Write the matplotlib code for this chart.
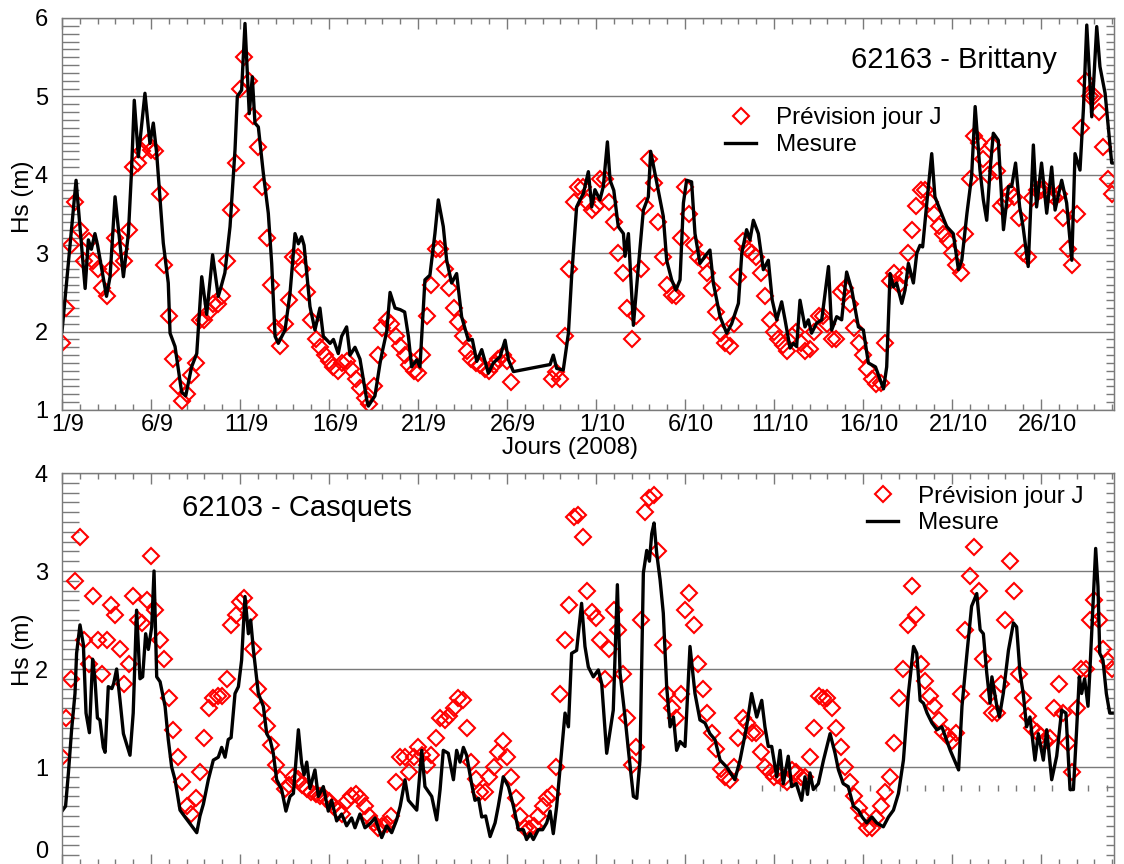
import numpy as np
import matplotlib
matplotlib.use('Agg')
import matplotlib.pyplot as plt
import matplotlib.transforms as mtransforms
from matplotlib.ticker import MultipleLocator

plt.rcParams['font.family'] = ['Liberation Sans', 'DejaVu Sans']

nan = np.nan

# jours depuis le 1/9/2008, etiquettes tous les 5 jours
tick_days = [0, 5, 10, 15, 20, 25, 30, 35, 40, 45, 50, 55]
tick_labels = ['1/9', '6/9', '11/9', '16/9', '21/9', '26/9',
               '1/10', '6/10', '11/10', '16/10', '21/10', '26/10']

# 62163 - Brittany : prevision jour J, une valeur toutes les 6 h
brittany_prev = [
    1.85, 2.3, 3.1, 3.65,   3.3, 2.9, 3.15, 2.9,    2.8, 2.55, 2.45, 2.8,
    3.2, 3.05, 2.9, 3.3,    4.1, 4.15, 4.3, 4.4,    4.32, 4.3, 3.75, 2.85,
    2.2, 1.65, 1.3, 1.12,   1.2, 1.45, 1.6, 2.15,   2.15, 2.25, 2.35, 2.35,
    2.45, 2.9, 3.55, 4.15,  5.1, 5.5, 5.2, 4.75,    4.35, 3.85, 3.2, 2.6,
    2.05, 1.82, 2.1, 2.4,   2.95, 2.95, 2.8, 2.5,   2.15, 1.9, 1.8, 1.7,
    1.62, 1.55, 1.5, 1.6,   1.62, 1.52, 1.4, 1.28,  1.15, 1.08, 1.3, 1.7,
    2.05, 2.15, 2.1, 1.95,  1.82, 1.7, 1.58, 1.5,   1.47, 1.7, 2.2, 2.6,
    3.05, 3.05, 2.8, 2.55,  2.3, 2.12, 1.95, 1.75,  1.65, 1.6, 1.57, 1.52,
    1.5, 1.58, 1.65, 1.7,   1.62, 1.36, nan, nan,   nan, nan, nan, nan,
    nan, nan, 1.4, 1.48,    1.4, 1.95, 2.8, 3.65,   3.85, 3.85, 3.65, 3.55,
    3.6, 3.95, 3.95, 3.65,  3.4, 3.0, 2.75, 2.3,    1.9, 2.2, 2.8, 3.6,
    4.2, 3.9, 3.4, 2.95,    2.6, 2.47, 2.45, 3.2,   3.85, 3.5, 3.1, 2.95,
    2.9, 2.75, 2.55, 2.25,  1.98, 1.85, 1.82, 2.1,  2.7, 3.15, 3.05, 3.0,
    2.95, 2.75, 2.45, 2.15, 2.0, 1.9, 1.83, 1.75,   1.95, 2.0, 1.85, 1.75,
    1.78, 2.0, 2.2, 2.2,    2.1, 1.9, 1.9, 2.5,     2.55, 2.35, 2.05, 1.85,
    1.7, 1.52, 1.4, 1.33,   1.35, 1.85, 2.65, 2.75, 2.6, 2.72, 3.0, 3.3,
    3.6, 3.8, 3.8, 3.65,    3.5, 3.35, 3.25, 3.15,  3.0, 2.85, 2.75, 3.25,
    3.95, 4.5, 4.4, 4.2,    4.0, 4.38, 4.05, 3.6,   3.65, 3.78, 3.72, 3.45,
    3.0, 2.95, 3.7, 3.8,    3.8, 3.8, 3.75, 3.72,   3.75, 3.45, 3.05, 2.85,
    3.5, 4.6, 5.2, 5.0,     5.0, 4.8, 4.35, 3.95,   3.75,
]

# 62163 - Brittany : mesure (jour, Hs)
brittany_mes = [
    (0.0, 2.0), (0.79, 3.93), (1.3, 2.55), (1.48, 3.17), (1.65, 3.05), (1.85, 3.25),
    (2.0, 3.1), (2.5, 2.45), (2.7, 2.7), (2.98, 3.72), (3.45, 2.7), (3.73, 3.25),
    (3.9, 4.02), (4.06, 4.95), (4.29, 4.23), (4.66, 5.04), (4.94, 4.4), (5.13, 4.66),
    (5.32, 4.27), (5.69, 3.13), (5.97, 2.62), (6.07, 1.98), (6.35, 1.81), (6.72, 1.23),
    (6.95, 1.18), (7.28, 1.55), (7.57, 1.72), (7.85, 2.7), (8.13, 2.22), (8.46, 2.98),
    (8.78, 2.45), (8.97, 2.6), (9.15, 2.75), (9.44, 3.34), (9.72, 4.32), (9.85, 5.0),
    (10.09, 5.08), (10.28, 5.93), (10.52, 4.78), (10.69, 5.25), (10.84, 4.66),
    (11.03, 4.61), (11.31, 4.02), (11.59, 3.51), (11.78, 2.87), (11.97, 1.94),
    (12.15, 1.85), (12.53, 2.02), (12.81, 2.49), (13.09, 3.25), (13.28, 3.12),
    (13.46, 3.21), (13.6, 3.1), (13.93, 2.32), (14.21, 2.02), (14.49, 2.3),
    (14.68, 1.94), (15.06, 1.85), (15.25, 1.9), (15.52, 1.72), (15.71, 1.94),
    (15.99, 2.06), (16.18, 1.7), (16.46, 1.8), (16.74, 1.65), (17.12, 1.13),
    (17.21, 1.05), (17.58, 1.18), (17.87, 1.6), (18.0, 1.75), (18.24, 2.0),
    (18.43, 2.5), (18.71, 2.3), (19.0, 2.28), (19.25, 2.25), (19.46, 1.94),
    (19.64, 1.55), (19.93, 1.64), (20.11, 1.55), (20.39, 2.66), (20.67, 2.72),
    (20.95, 3.25), (21.14, 3.68), (21.42, 3.34), (21.61, 2.91), (21.89, 2.62),
    (22.17, 2.74), (22.45, 2.19), (22.83, 1.89), (23.05, 1.9), (23.3, 1.62),
    (23.58, 1.77), (23.95, 1.47), (24.23, 1.6), (24.61, 1.68), (24.89, 1.89),
    (25.08, 1.64), (25.36, 1.49), (27.42, 1.58), (27.6, 1.7), (27.79, 1.53),
    (28.16, 1.51), (28.45, 1.98), (28.63, 2.7), (28.91, 3.59), (29.1, 3.68),
    (29.29, 3.76), (29.57, 4.04), (29.76, 3.59), (29.94, 3.81), (30.22, 3.68),
    (30.41, 3.85), (30.64, 4.42), (30.79, 3.93), (31.0, 3.8), (31.25, 3.34),
    (31.54, 3.25), (31.63, 2.96), (31.82, 3.25), (32.1, 2.08), (32.38, 2.83),
    (32.66, 3.55), (32.94, 3.72), (33.07, 4.3), (33.31, 4.02), (33.78, 3.47),
    (33.97, 2.91), (34.25, 2.66), (34.49, 2.53), (34.72, 2.66), (34.91, 3.64),
    (35.09, 3.93), (35.37, 3.91), (35.56, 3.25), (35.84, 2.87), (36.12, 2.96),
    (36.4, 3.04), (36.59, 2.62), (36.97, 2.19), (37.34, 1.98), (37.62, 2.1),
    (38.0, 2.36), (38.19, 3.0), (38.46, 3.3), (38.65, 3.17), (38.84, 3.42),
    (39.12, 3.25), (39.4, 2.79), (39.68, 2.91), (39.9, 2.4), (40.15, 2.15),
    (40.43, 2.38), (40.62, 2.15), (40.9, 1.79), (41.08, 1.85), (41.27, 1.81),
    (41.46, 2.4), (41.74, 2.06), (41.93, 2.15), (42.11, 1.98), (42.4, 2.11),
    (42.68, 2.15), (43.06, 2.83), (43.24, 2.02), (43.52, 2.19), (43.8, 2.15),
    (44.08, 2.76), (44.37, 2.53), (44.74, 2.06), (45.02, 2.02), (45.3, 1.6),
    (45.7, 1.55), (46.15, 1.27), (46.33, 1.55), (46.52, 2.74), (46.71, 2.57),
    (46.89, 2.62), (47.18, 2.36), (47.36, 2.53), (47.55, 2.87), (47.83, 2.62),
    (48.02, 3.0), (48.2, 3.1), (48.35, 3.08), (48.6, 3.68), (48.86, 4.27),
    (49.04, 3.72), (49.33, 3.55), (49.7, 3.34), (50.07, 3.25), (50.36, 2.79),
    (50.55, 2.91), (50.84, 3.51), (51.1, 3.98), (51.3, 4.87), (51.57, 4.06),
    (51.76, 3.68), (51.95, 3.42), (52.14, 4.06), (52.32, 4.53), (52.6, 4.44),
    (52.89, 3.3), (53.17, 3.85), (53.35, 3.85), (53.57, 4.15), (53.8, 3.59),
    (53.99, 3.34), (54.28, 2.83), (54.57, 4.38), (54.75, 3.59), (55.03, 4.15),
    (55.32, 3.51), (55.6, 4.1), (55.79, 3.55), (56.16, 3.93), (56.44, 3.64),
    (56.73, 2.91), (56.91, 4.27), (57.19, 4.06), (57.38, 4.83), (57.57, 5.91),
    (57.85, 4.74), (58.13, 5.89), (58.31, 5.38), (58.6, 5.04), (58.97, 4.15),
    (59.1, 4.15),
]

# 62103 - Casquets : prevision jour J, une valeur toutes les 6 h
casquets_prev = [
    1.1, 1.5, 1.9, 2.9,     3.35, 2.3, 2.05, 2.75,  2.3, 1.95, 2.3, 2.65,
    2.55, 2.2, 1.85, 2.05,  2.75, 2.5, 2.47, 2.7,   3.15, 2.6, 2.3, 2.1,
    1.7, 1.38, 1.1, 0.85,   0.6, 0.52, 0.68, 0.95,  1.3, 1.6, 1.7, 1.72,
    1.72, 1.9, 2.45, 2.55,  2.68, 2.72, 2.55, 2.2,  1.8, 1.6, 1.42, 1.22,
    1.02, 0.88, 0.78, 0.82, 0.9, 0.88, 0.82, 0.78,  0.74, 0.72, 0.7, 0.68,
    0.65, 0.6, 0.55, 0.52,  0.65, 0.7, 0.72, 0.68,  0.6, 0.5, 0.43, 0.38,
    0.4, 0.42, 0.5, 0.85,   1.1, 1.1, 0.95, 1.1,    1.2, 1.12, 1.02, 1.12,
    1.3, 1.5, 1.48, 1.52,   1.6, 1.7, 1.68, 1.4,    1.05, 0.88, 0.75, 0.75,
    0.9, 1.0, 1.15, 1.27,   1.1, 0.9, 0.68, 0.5,    0.38, 0.37, 0.4, 0.5,
    0.6, 0.68, 0.72, 1.0,   1.75, 2.3, 2.65, 3.55,  3.57, 3.35, 2.8, 2.58,
    2.52, 2.3, 1.9, 2.2,    2.6, 2.4, 1.95, 1.5,    1.02, 1.2, 2.5, 3.6,
    3.75, 3.78, 3.2, 2.25,  1.75, 1.6, 1.5, 1.75,   2.6, 2.78, 2.45, 2.05,
    1.8, 1.55, 1.35, 1.18,  0.98, 0.9, 0.87, 1.0,   1.3, 1.5, 1.45, 1.35,
    1.35, 1.15, 1.0, 0.95,  0.9, 0.92, 0.88, 0.85,  0.97, 0.95, 0.9, 0.9,
    1.1, 1.4, 1.72, 1.7,    1.7, 1.6, 1.4, 1.2,     1.0, 0.85, 0.7, 0.58,
    0.48, 0.38, 0.38, 0.48, 0.6, 0.75, 0.9, 1.25,   1.7, 2.0, 2.45, 2.85,
    2.55, 2.05, 1.88, 1.72, 1.62, 1.48, 1.36, 1.32, 1.27, 1.35, 1.75, 2.4,
    2.95, 3.25, 2.8, 2.1,   1.72, 1.55, 1.55, 1.85, 2.5, 3.1, 2.8, 1.95,
    1.7, 1.52, 1.4, 1.36,   1.32, 1.27, 1.3, 1.6,   1.85, 1.55, 1.25, 0.95,
    1.6, 2.0, 2.0, 2.5,     2.7, 2.5, 2.2, 2.08,    2.0,
]

# 62103 - Casquets : mesure (jour, Hs)
casquets_mes = [
    (0.0, 0.55), (0.2, 0.6), (0.36, 0.94), (0.54, 1.38), (0.73, 1.75), (0.82, 2.16),
    (1.01, 2.45), (1.2, 2.25), (1.35, 1.55), (1.54, 1.35), (1.72, 2.1), (1.85, 1.9),
    (1.99, 1.5), (2.13, 1.48), (2.32, 1.2), (2.42, 1.15), (2.6, 1.82), (2.8, 1.8),
    (2.9, 1.85), (3.07, 2.0), (3.26, 1.68), (3.45, 1.34), (3.82, 1.12), (4.0, 1.55),
    (4.19, 2.6), (4.38, 1.9), (4.53, 1.92), (4.7, 2.36), (4.85, 2.2), (5.04, 2.43),
    (5.17, 3.0), (5.32, 1.92), (5.51, 1.87), (5.79, 1.62), (5.97, 1.28), (6.16, 1.0),
    (6.35, 0.87), (6.63, 0.56), (6.91, 0.49), (7.28, 0.4), (7.57, 0.33), (7.75, 0.5),
    (7.94, 0.62), (8.22, 0.87), (8.5, 1.07), (8.78, 1.1), (8.97, 1.2), (9.16, 1.1),
    (9.34, 1.28), (9.5, 1.3), (9.72, 1.75), (9.91, 1.82), (10.09, 2.09), (10.28, 2.74),
    (10.47, 2.36), (10.6, 2.5), (10.75, 2.2), (11.03, 1.75), (11.31, 1.62), (11.5, 1.34),
    (11.69, 1.28), (11.87, 1.14), (12.06, 0.87), (12.34, 0.77), (12.58, 0.55),
    (12.81, 0.7), (13.0, 0.73), (13.28, 1.38), (13.46, 1.04), (13.6, 0.92),
    (13.75, 1.05), (13.93, 0.78), (14.21, 0.97), (14.4, 0.7), (14.68, 0.8),
    (14.96, 0.55), (15.15, 0.66), (15.43, 0.45), (15.71, 0.52), (15.99, 0.4),
    (16.27, 0.48), (16.46, 0.38), (16.74, 0.52), (17.02, 0.38), (17.3, 0.42),
    (17.58, 0.48), (17.96, 0.28), (18.24, 0.4), (18.52, 0.33), (18.8, 0.46),
    (19.0, 0.6), (19.27, 0.87), (19.46, 0.66), (19.93, 0.56), (20.21, 1.17),
    (20.39, 0.8), (20.77, 0.7), (21.05, 0.46), (21.24, 0.77), (21.42, 1.17),
    (21.7, 1.14), (21.99, 0.87), (22.17, 1.17), (22.36, 1.05), (22.55, 1.2),
    (22.73, 1.12), (23.01, 0.83), (23.2, 0.66), (23.4, 0.68), (23.58, 0.49),
    (23.8, 0.5), (24.05, 0.29), (24.33, 0.43), (24.51, 0.6), (24.79, 0.9),
    (25.08, 0.8), (25.36, 0.6), (25.64, 0.36), (25.92, 0.36), (26.1, 0.26),
    (26.3, 0.32), (26.48, 0.26), (26.76, 0.36), (27.0, 0.36), (27.23, 0.43),
    (27.42, 0.55), (27.6, 0.32), (27.79, 0.6), (28.07, 1.17), (28.26, 1.55),
    (28.45, 1.41), (28.63, 2.16), (28.91, 2.19), (29.19, 2.67), (29.38, 2.23),
    (29.57, 2.02), (29.85, 1.92), (30.13, 1.99), (30.32, 1.85), (30.6, 1.14),
    (30.97, 1.58), (31.2, 2.86), (31.35, 1.96), (31.63, 1.51), (31.82, 1.17),
    (32.1, 0.7), (32.29, 0.68), (32.47, 1.07), (32.66, 2.98), (32.85, 3.21),
    (33.0, 3.1), (33.13, 3.38), (33.26, 3.49), (33.41, 3.18), (33.6, 2.91),
    (33.78, 2.57), (33.97, 1.82), (34.16, 1.41), (34.35, 1.51), (34.53, 1.17),
    (34.72, 1.26), (35.0, 1.21), (35.28, 2.23), (35.56, 1.75), (35.84, 1.48),
    (36.12, 1.45), (36.4, 1.34), (36.68, 1.28), (36.97, 1.07), (37.34, 1.0),
    (37.8, 0.87), (38.09, 1.07), (38.46, 1.41), (38.74, 1.75), (39.03, 1.51),
    (39.31, 1.68), (39.49, 1.41), (39.68, 1.21), (39.87, 1.21), (40.15, 0.9),
    (40.34, 1.17), (40.52, 0.83), (40.8, 1.11), (40.99, 0.8), (41.25, 0.83),
    (41.55, 0.66), (41.74, 0.9), (41.88, 0.72), (42.02, 0.94), (42.21, 0.77),
    (42.49, 0.83), (42.78, 1.07), (43.15, 1.34), (43.43, 1.14), (43.62, 0.97),
    (43.89, 0.83), (44.17, 0.8), (44.46, 0.6), (44.74, 0.56), (44.95, 0.49),
    (45.21, 0.43), (45.5, 0.49), (45.77, 0.43), (46.14, 0.39), (46.43, 0.49),
    (46.71, 0.56), (46.99, 0.73), (47.27, 1.07), (47.55, 1.75), (47.84, 2.23),
    (48.02, 2.16), (48.21, 1.68), (48.4, 1.65), (48.6, 1.55), (48.87, 1.45),
    (49.15, 1.38), (49.43, 1.41), (49.9, 1.17), (50.37, 0.97), (50.56, 1.62),
    (50.84, 2.16), (51.1, 2.64), (51.39, 2.77), (51.58, 2.4), (51.76, 2.36),
    (51.95, 1.96), (52.14, 1.65), (52.24, 1.92), (52.52, 1.62), (52.66, 1.51),
    (52.88, 1.75), (53.17, 2.19), (53.45, 2.47), (53.63, 2.43), (53.82, 1.96),
    (54.0, 1.75), (54.19, 1.41), (54.38, 1.51), (54.66, 1.07), (54.85, 1.34),
    (55.13, 1.07), (55.32, 1.38), (55.6, 0.87), (55.88, 1.11), (56.16, 1.58),
    (56.4, 1.55), (56.63, 0.77), (56.82, 0.77), (57.0, 1.38), (57.15, 1.92),
    (57.28, 1.75), (57.45, 1.9), (57.64, 1.62), (57.74, 1.96), (57.9, 2.57),
    (58.07, 3.23), (58.2, 2.84), (58.3, 2.16), (58.48, 2.09), (58.67, 1.75),
    (58.86, 1.55), (59.05, 1.55),
]

GRAY = '#7a7a7a'


def draw_panel(ax, prev, mesure, ymin, ymax):
    t_prev = np.arange(len(prev)) / 4.0
    t_mes, hs_mes = np.array(mesure).T
    ax.plot(t_prev, prev, linestyle='none', marker='D', ms=8.5, mfc='none',
            mec='red', mew=1.5, label='Prévision jour J')
    ax.plot(t_mes, hs_mes, color='black', lw=2.4, label='Mesure')

    ax.set_xlim(0, 59.1)
    ax.set_ylim(ymin, ymax)
    ax.set_xticks(tick_days)
    ax.set_yticks(np.arange(ymin, ymax + 1))
    ax.xaxis.set_minor_locator(MultipleLocator(1))
    ax.yaxis.set_minor_locator(MultipleLocator(0.1))
    ax.grid(axis='y', which='major', color=GRAY, lw=1.0)
    ax.set_axisbelow(True)
    for s in ax.spines.values():
        s.set_color(GRAY)
        s.set_linewidth(1.0)
    ax.tick_params(which='both', direction='in', colors=GRAY, labelcolor='black',
                   top=True, bottom=True, left=True, right=False)
    ax.tick_params(axis='x', which='major', length=8, width=1, labelsize=17, pad=3)
    ax.tick_params(axis='x', which='minor', length=4, width=1)
    ax.tick_params(axis='y', which='major', length=0, labelsize=17, pad=10)
    ax.tick_params(axis='y', which='minor', length=12, width=1)

    # graduations de droite, plus courtes
    sec = ax.secondary_yaxis('right')
    sec.yaxis.set_major_locator(MultipleLocator(1))
    sec.yaxis.set_minor_locator(MultipleLocator(0.1))
    sec.tick_params(which='both', direction='in', colors=GRAY, labelright=False)
    sec.tick_params(which='major', length=0)
    sec.tick_params(which='minor', length=6, width=1)
    sec.spines['right'].set_color(GRAY)


fig = plt.figure(figsize=(11.24, 8.64), dpi=100)
ax1 = fig.add_axes([62 / 1124, 1 - 410 / 864, 1052 / 1124, 392 / 864])
ax2 = fig.add_axes([62 / 1124, 1 - 865 / 864, 1052 / 1124, 392 / 864])

draw_panel(ax1, brittany_prev, brittany_mes, 1, 6)
draw_panel(ax2, casquets_prev, casquets_mes, 0, 4)

ax1.set_xticklabels(tick_labels)
ax2.set_xticklabels([])
shift = mtransforms.ScaledTranslation(6 / 100, 0, fig.dpi_scale_trans)
for lab in ax1.get_xticklabels():
    lab.set_transform(lab.get_transform() + shift)
# le "0" du bas remonte pour rester dans l'image
up = mtransforms.ScaledTranslation(0, 15 / 100, fig.dpi_scale_trans)
lab0 = ax2.yaxis.get_major_ticks()[0].label1
lab0.set_transform(lab0.get_transform() + up)

# petites graduations parasites vers Hs = 0.79 (fin de la periode)
stray = ax2.secondary_xaxis(0.79 / 4)
stray.set_xticks(np.arange(39.3, 59.2, 1.02))
stray.tick_params(which='both', direction='inout', length=5, width=1, colors=GRAY,
                  labelbottom=False, labeltop=False)
stray.xaxis.set_minor_locator(matplotlib.ticker.NullLocator())
for s in stray.spines.values():
    s.set_visible(False)

ax1.text(0.946, 0.893, '62163 - Brittany', transform=ax1.transAxes,
         ha='right', va='center', fontsize=21)
ax2.text(0.114, 0.911, '62103 - Casquets', transform=ax2.transAxes,
         ha='left', va='center', fontsize=21)

ax1.legend(loc='upper left', bbox_to_anchor=(0.630, 0.772), frameon=False,
           fontsize=17.5, handlelength=1.3, handletextpad=0.8, labelspacing=0.2,
           borderpad=0, borderaxespad=0, numpoints=1)
ax2.legend(loc='upper left', bbox_to_anchor=(0.765, 0.968), frameon=False,
           fontsize=17.5, handlelength=1.3, handletextpad=0.8, labelspacing=0.2,
           borderpad=0, borderaxespad=0, numpoints=1)

fig.text(570 / 1124, 1 - 448 / 864, 'Jours (2008)', ha='center', va='center', fontsize=17.5)
fig.text(23 / 1124, 1 - 197 / 864, 'Hs (m)', rotation=90, ha='center', va='center', fontsize=17.5)
fig.text(23 / 1124, 1 - 650 / 864, 'Hs (m)', rotation=90, ha='center', va='center', fontsize=17.5)

fig.savefig('out.png', dpi=100)
